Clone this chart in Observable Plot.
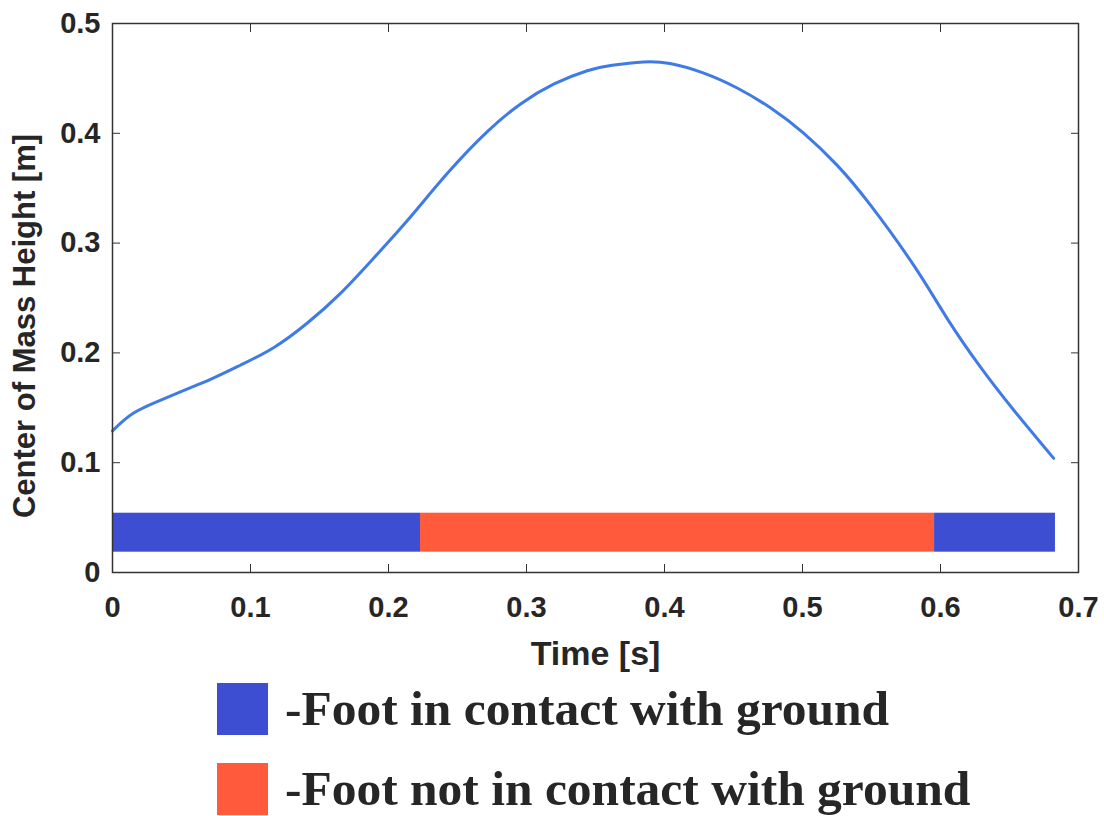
<!DOCTYPE html>
<html>
<head>
<meta charset="utf-8">
<script src="https://cdn.jsdelivr.net/npm/d3@7"></script>
<script src="https://cdn.jsdelivr.net/npm/@observablehq/plot@0.6"></script>
<style>
  body { margin: 0; background: #fff; }
  #wrap { position: relative; width: 1104px; height: 816px; overflow: hidden; background: #fff; }
  #chart { position: absolute; left: 0; top: 0; }
  #chart g[aria-label$="tick label"] text { font-size: 29px; }
  #chart g[aria-label="x-axis label"] text { font-size: 34px; }
  #chart g[aria-label="y-axis label"] text { font-size: 31px; }
  .leg { position: absolute; left: 217px; display: flex; align-items: center;
         font-family: "Liberation Serif", "Times New Roman", serif; font-weight: bold;
         font-size: 49.5px; color: #262626; white-space: nowrap; }
  .sw { width: 51px; height: 52px; margin-right: 17px; flex: none; }
</style>
</head>
<body>
<div id="wrap"><div id="chart"></div><div id="legend"></div></div>
<script>
// Center of mass height curve
const time   = [0, 0.015, 0.035, 0.054, 0.073, 0.093, 0.117, 0.141, 0.165, 0.189, 0.214, 0.243, 0.272, 0.296, 0.320, 0.344, 0.362, 0.385, 0.404, 0.428, 0.453, 0.477, 0.501, 0.525, 0.549, 0.581, 0.605, 0.629, 0.653, 0.682];
const comHeight = [0.129, 0.145, 0.157, 0.167, 0.177, 0.189, 0.205, 0.227, 0.254, 0.286, 0.321, 0.364, 0.402, 0.427, 0.445, 0.457, 0.462, 0.465, 0.4635, 0.455, 0.441, 0.423, 0.400, 0.371, 0.335, 0.279, 0.231, 0.187, 0.148, 0.104];

// Contact phases
const phaseStart = [0, 0.2232, 0.5957];
const phaseEnd   = [0.2232, 0.5957, 0.6833];
const phaseType  = ["Foot in contact with ground", "Foot not in contact with ground", "Foot in contact with ground"];
const barLow = 0.0185, barHigh = 0.054;

const legendNames  = ["Foot in contact with ground", "Foot not in contact with ground"];
const legendColors = ["#3d4ed2", "#ff5a3c"];

const xTicks = [0, 0.1, 0.2, 0.3, 0.4, 0.5, 0.6, 0.7];
const yTicks = [0, 0.1, 0.2, 0.3, 0.4, 0.5];

const curve = time.map((t, i) => ({t, h: comHeight[i]}));
const phases = phaseStart.map((s, i) => ({start: s, end: phaseEnd[i], phase: phaseType[i]}));
const fmt = d => d === 0 ? "0" : String(d);
const blank = () => "";

const chart = Plot.plot({
  width: 1104, height: 680,
  marginTop: 23, marginBottom: 108, marginLeft: 112, marginRight: 26,
  style: {fontFamily: '"Liberation Sans", Arial, sans-serif', fontWeight: "bold", fontSize: "29px", color: "#262626", background: "#fff", overflow: "visible"},
  x: {domain: [0, 0.7]},
  y: {domain: [0, 0.5]},
  color: {domain: legendNames, range: legendColors},
  marks: [
    Plot.rect(phases, {x1: "start", x2: "end", y1: barLow, y2: barHigh, fill: "phase"}),
    Plot.line(curve, {x: "t", y: "h", stroke: "#3f7be6", strokeWidth: 3, curve: "natural"}),
    Plot.frame({stroke: "#333", strokeWidth: 1.5}),
    Plot.axisX(xTicks, {anchor: "bottom", tickSize: -8, tickFormat: blank, label: null, stroke: "#333"}),
    Plot.axisX(xTicks, {anchor: "top", tickSize: -8, tickFormat: blank, label: null, stroke: "#333"}),
    Plot.axisY(yTicks, {anchor: "left", tickSize: -8, tickFormat: blank, label: null, stroke: "#333"}),
    Plot.axisY(yTicks, {anchor: "right", tickSize: -8, tickFormat: blank, label: null, stroke: "#333"}),
    Plot.axisX(xTicks, {anchor: "bottom", tickSize: 0, tickPadding: 24, tickFormat: fmt, label: "Time [s]", labelAnchor: "center", labelArrow: "none", labelOffset: 92}),
    Plot.axisY(yTicks, {anchor: "left", tickSize: 0, tickPadding: 12, tickFormat: fmt, label: "Center of Mass Height [m]", labelAnchor: "center", labelArrow: "none", labelOffset: 100})
  ]
});
document.getElementById("chart").appendChild(chart);
// MATLAB centres the y label slightly below the axes' middle
const yl = chart.querySelector('g[aria-label="y-axis label"]');
if (yl) {
  const wrapG = document.createElementNS("http://www.w3.org/2000/svg", "g");
  wrapG.setAttribute("transform", "translate(0,28)");
  yl.parentNode.insertBefore(wrapG, yl);
  wrapG.appendChild(yl);
}

const legend = document.getElementById("legend");
legendNames.forEach((name, i) => {
  const row = document.createElement("div");
  row.className = "leg";
  row.style.top = (683 + i * 80) + "px";
  const sw = document.createElement("div");
  sw.className = "sw";
  sw.style.background = legendColors[i];
  const lab = document.createElement("span");
  lab.textContent = "-" + name;
  lab.style.lineHeight = "52px";
  row.appendChild(sw); row.appendChild(lab);
  legend.appendChild(row);
});
</script>
</body>
</html>
